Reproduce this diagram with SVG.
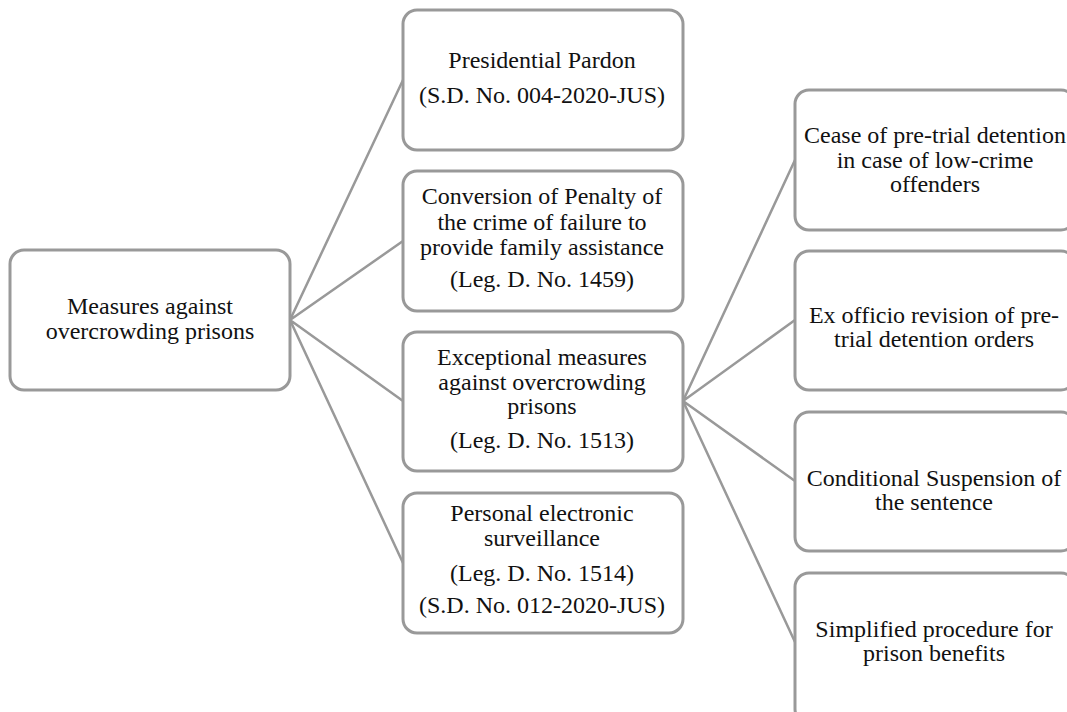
<svg xmlns="http://www.w3.org/2000/svg" width="1067" height="712" viewBox="0 0 1067 712">
<style>
.box{fill:#fff;stroke:#999;stroke-width:3}
.t{font-family:"Liberation Serif","Times New Roman",serif;font-size:24px;fill:#111;text-anchor:middle}
.c{stroke:#999;stroke-width:2.5;fill:none}
</style>
<rect width="1067" height="712" fill="#fff"/>
<g id="connectors">
<path class="c" d="M290 320 L403 80 M290 320 L403 241 M290 320 L403 401 M290 320 L403 563"/>
<path class="c" d="M683 401 L795 160 M683 401 L795 320 M683 401 L795 481 M683 401 L795 642"/>
</g>
<g id="root">
<rect class="box" x="10" y="250" width="280" height="140" rx="14"/>
<text class="t" x="150" y="314">Measures against</text>
<text class="t" x="150" y="339">overcrowding prisons</text>
</g>
<g id="pardon">
<rect class="box" x="403" y="10" width="280" height="140" rx="14"/>
<text class="t" x="542" y="68">Presidential Pardon</text>
<text class="t" x="542" y="103">(S.D. No. 004-2020-JUS)</text>
</g>
<g id="conversion">
<rect class="box" x="403" y="171" width="280" height="140" rx="14"/>
<text class="t" x="542" y="204">Conversion of Penalty of</text>
<text class="t" x="542" y="230">the crime of failure to</text>
<text class="t" x="542" y="255">provide family assistance</text>
<text class="t" x="542" y="287">(Leg. D. No. 1459)</text>
</g>
<g id="exceptional">
<rect class="box" x="403" y="332" width="280" height="139" rx="14"/>
<text class="t" x="542" y="365">Exceptional measures</text>
<text class="t" x="542" y="390">against overcrowding</text>
<text class="t" x="542" y="414">prisons</text>
<text class="t" x="542" y="448">(Leg. D. No. 1513)</text>
</g>
<g id="electronic">
<rect class="box" x="403" y="493" width="280" height="140" rx="14"/>
<text class="t" x="542" y="521">Personal electronic</text>
<text class="t" x="542" y="546">surveillance</text>
<text class="t" x="542" y="581">(Leg. D. No. 1514)</text>
<text class="t" x="542" y="613">(S.D. No. 012-2020-JUS)</text>
</g>
<g id="cease">
<rect class="box" x="795" y="90" width="280" height="140" rx="14"/>
<text class="t" x="935" y="143">Cease of pre-trial detention</text>
<text class="t" x="935" y="168">in case of low-crime</text>
<text class="t" x="935" y="192">offenders</text>
</g>
<g id="revision">
<rect class="box" x="795" y="251" width="280" height="139" rx="14"/>
<text class="t" x="934" y="323">Ex officio revision of pre-</text>
<text class="t" x="934" y="347">trial detention orders</text>
</g>
<g id="suspension">
<rect class="box" x="795" y="412" width="280" height="139" rx="14"/>
<text class="t" x="934" y="486">Conditional Suspension of</text>
<text class="t" x="934" y="510">the sentence</text>
</g>
<g id="simplified">
<rect class="box" x="795" y="573" width="280" height="150" rx="14"/>
<text class="t" x="934" y="637">Simplified procedure for</text>
<text class="t" x="934" y="661">prison benefits</text>
</g>
</svg>
